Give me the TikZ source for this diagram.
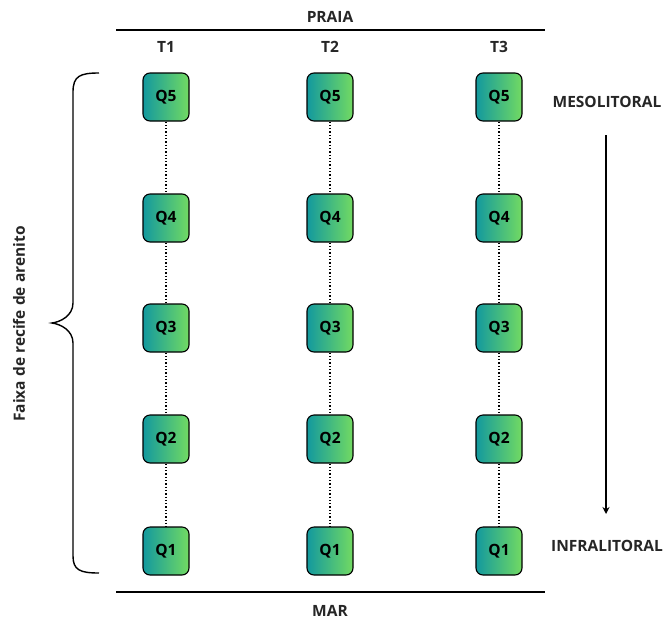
\documentclass[tikz,border=0pt]{standalone}
\usepackage{fontspec}
\setmainfont{Open Sans}
\usetikzlibrary{arrows.meta}
\definecolor{tealL}{HTML}{13999E}
\definecolor{greenR}{HTML}{72DA62}
\tikzset{
  qbox/.style={draw=black, line width=1.1pt, rounded corners=7pt, minimum width=46pt, minimum height=48pt,
    left color=tealL, right color=greenR, inner sep=0pt, font=\fontsize{15.5}{18}\selectfont\bfseries},
  lbl/.style={font=\fontsize{15.5}{18}\selectfont\bfseries, inner sep=0pt, text=black!85},
  dots/.style={dotted, line width=1.3pt},
  rule/.style={line width=1.4pt}
}
\begin{document}
\begin{tikzpicture}[x=1pt,y=-1pt]
\useasboundingbox (0,0) rectangle (669,619);
% top and bottom rules
\coordinate (pl) at (116,30); \coordinate (pr) at (545,30);
\coordinate (ml) at (116,592); \coordinate (mr) at (545,592);
\draw[rule] (pl) -- (pr);
\draw[rule] (ml) -- (mr);
\node[lbl] (praia) at (330,17) {PRAIA};
\node[lbl] (mar) at (330,611) {MAR};
% column headers
\node[lbl] (t1) at (166,47) {T1};
\node[lbl] (t2) at (330,47) {T2};
\node[lbl] (t3) at (499,47) {T3};
% boxes
\foreach \c/\x in {a/166,b/330,c/499}{
  \node[qbox] (q5\c) at (\x,97) {Q5};
  \node[qbox] (q4\c) at (\x,218) {Q4};
  \node[qbox] (q3\c) at (\x,328) {Q3};
  \node[qbox] (q2\c) at (\x,439) {Q2};
  \node[qbox] (q1\c) at (\x,551) {Q1};
  \draw[dots] (q5\c) -- (q4\c);
  \draw[dots] (q4\c) -- (q3\c);
  \draw[dots] (q3\c) -- (q2\c);
  \draw[dots] (q2\c) -- (q1\c);
}
% right side
\node[lbl] (meso) at (607,102) {MESOLITORAL};
\node[lbl] (infra) at (607,546) {INFRALITORAL};
\coordinate (at) at (606,135);
\coordinate (ab) at (606,514);
\draw[-{Stealth[length=7pt,width=7pt]}, line width=1.2pt] (at) -- (ab);
% brace
\draw[line width=1.4pt] (99,73) .. controls (80,73) and (73,76) .. (73,92)
  -- (73,303) .. controls (73,316) and (60,322) .. (52,323)
  .. controls (60,324) and (73,330) .. (73,343)
  -- (73,556) .. controls (73,570) and (80,573) .. (99,573);
\node[lbl, rotate=90] (faixa) at (19,324) {Faixa de recife de arenito};
\end{tikzpicture}
\end{document}
